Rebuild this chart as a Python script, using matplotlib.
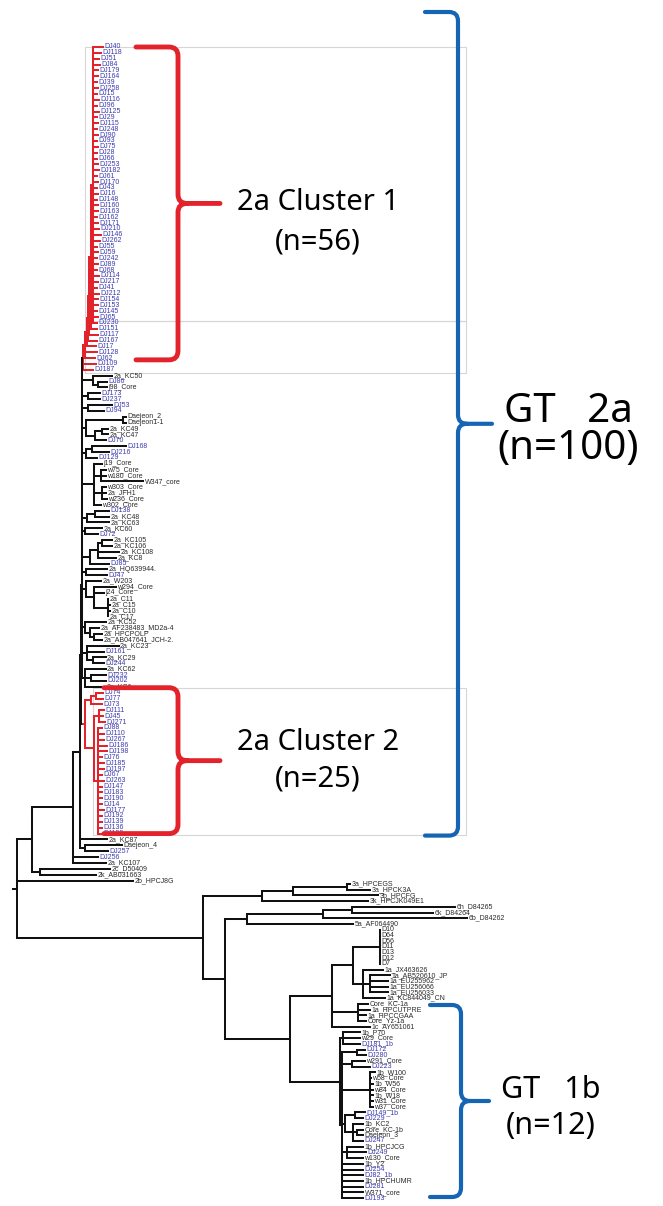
import matplotlib
matplotlib.use("Agg")
import matplotlib.pyplot as plt
from matplotlib.path import Path
from matplotlib.patches import PathPatch, Rectangle
from matplotlib.collections import LineCollection

# ---------------- data: tree topology, leaf names and branch lengths ----------------
# leaf = (name, branch_length) ; clade = (branch_length, [children])

# 2a Cluster 1 (n=56): comb of 48 leaves + ladder of 8
cluster1_names = ["DJ40", "DJ118", "DJ51", "DJ84", "DJ179", "DJ164", "DJ39", "DJ258", "DJ15", "DJ116",
                  "DJ96", "DJ125", "DJ29", "DJ115", "DJ248", "DJ90", "DJ93", "DJ75", "DJ28", "DJ66",
                  "DJ253", "DJ182", "DJ61", "DJ170", "DJ43", "DJ16", "DJ148", "DJ160", "DJ163", "DJ162",
                  "DJ171", "DJ210", "DJ146", "DJ262", "DJ55", "DJ59", "DJ242", "DJ89", "DJ68", "DJ114",
                  "DJ217", "DJ41", "DJ212", "DJ154", "DJ153", "DJ145", "DJ65", "DJ230",
                  "DJ151", "DJ117", "DJ167", "DJ17", "DJ128", "DJ62", "DJ109", "DJ187"]
cluster1_tips = [10, 8, 6, 7, 5, 5, 4, 5, 4, 6, 4, 6, 4, 5, 4, 5, 4, 5, 4, 4, 5, 6, 4, 5,
                 4, 5, 4, 5, 5, 4, 5, 6, 8, 7, 4, 5, 4, 5, 4, 6, 5, 4, 6, 5, 5, 4, 5, 4,
                 6, 9, 9, 9, 12, 10, 13, 10]

cluster2_names = ["DJ74", "DJ77", "DJ73", "DJ111", "DJ45", "DJ271", "DJ88", "DJ110", "DJ267", "DJ186",
                  "DJ198", "DJ76", "DJ185", "DJ197", "DJ67", "DJ263", "DJ147", "DJ183", "DJ190",
                  "DJ14", "DJ177", "DJ192", "DJ139", "DJ136", "DJ188"]
cluster2_tips = [7, 7, 11, 5, 4, 6, 4, 6, 6, 9, 9, 4, 6, 6, 4, 6, 4, 4, 4, 4, 6, 4, 4, 4, 4]

# other genotype-2a sub-clades (children of the 2a backbone)
g1 = (11, [("2a_KC50", 19), (5, [("DJ86", 9), ("j98_Core", 9)])])
g2 = (6, [("DJ173", 12), ("DJ237", 12)])
g3 = (6, [("DJ53", 24), ("DJ94", 16)])
g4 = (4, [(37, [("Daejeon_2", 3), ("Daejeon1-1", 3)]),
          (9, [(7, [("2a_KC49", 6), ("2a_KC47", 6)]), ("DJ70", 11)])])
g5 = (4, [(6, [("DJ168", 34), ("DJ216", 17)]), ("DJ129", 11)])
g6 = (12, [("j19_Core", 8), (7, [("w75_Core", 5), ("w180_Core", 5), ("W347_core", 42)]),
           (8, [("w303_Core", 4), ("2a_JFH1", 4), ("w236_Core", 5)]), ("w302_Core", 7)])
g7 = (5, [(8, [("DJ138", 14), ("2a_KC48", 14)]), ("2a_KC63", 22)])
g8 = (3, [("2a_KC60", 17), ("DJ72", 13)])
g9 = (8, [(8, [(4, [("2a_KC105", 10), ("2a_KC106", 10)]), ("2a_KC108", 21), ("2a_KC8", 18)]), ("DJ85", 19)])
g10 = (4, [("2a_HQ639944.", 21), ("DJ47", 21)])
g11 = (4, [("2a_W203", 15), (8, [("w294_Core", 22), ("j24_Core", 10),
                                  (14, [("2a_C11", 0), ("2a_C15", 2), ("2a_C10", 2), ("2a_C17", 0)])])])
g12 = (3, [("2a_KC52", 21), (5, [("2a_AF238483_MD2a-4", 9),
                                  (4, [("2a_HPCPOLP", 8), ("2a_AB047641_JCH-2.", 8)])])])
g13 = (5, [("2a_KC23", 32), ("DJ161", 17), (6, [("2a_KC29", 13), ("DJ244", 11)])])
g14 = (3, [("2a_KC62", 21), (6, [("DJ232", 15), ("DJ202", 15)]), ("2a_KC6", 21)])

# genotypes 3, 6, 5
gt3 = (59, [(31, [(54, [("3a_HPCEGS", 3), ("3a_HPCK3A", 23)]), ("3b_HPCFG", 85)]), ("3k_HPCJK049E1", 106)])
gt65 = (22, [(76, [(29, [("6h_D84265", 103), ("6k_D84264", 81)]), ("6b_D84262", 144)]), ("5a_AF064490", 106)])

# genotype 1a / 1c
d_names = ["D10", "D64", "D56", "D11", "D13", "D12", "D7"]
gt1a = (21, [(15, [(12, [(n, 0) for n in d_names])]),
             (10, [("1a_JX463626", 20),
                   (7, [("1a_AB520610_JP", 20), ("1a_EU255962", 18), ("1a_EU256066", 18), ("1a_EU256033", 18)]),
                   ("1a_KC844049_CN", 22)])])
gt1ac = (42, [gt1a, (26, [("Core_KC-1a", 10), ("1a_HPCUTPRE", 12), ("1a_HPCCGAA", 8), ("Core_Yz-1a", 8)]),
              ("1c_AY651061", 38)])

# genotype 1b
gt1b = (50, [(3, [("1b_P70", 17), ("w29_Core", 17), ("DJ181_1b", 17)]),
             (2, [(15, [("DJ172", 8), ("DJ280", 9)]),
                  (10, [("w291_Core", 13), ("DJ223", 18)]),
                  (28, [("1b_W100", 5), ("w58_Core", 1), ("1b_W56", 3), ("w84_Core", 3),
                        ("1b_W18", 3), ("w31_Core", 3), ("w37_Core", 3)]),
                  (3, [(10, [("DJ149_1b", 10), ("DJ229", 8)]),
                       (8, [("1b_KC2", 10), (4, [("Core_KC-1b", 6), ("Daejeon_3", 6)]), ("DJ247", 10)])]),
                  (5, [("1b_HPCJCG", 16), ("DJ249", 19), ("w130_Core", 16)]),
                  ("1b_Y2", 21), ("DJ254", 21), ("DJ82_1b", 21), ("1b_HPCHUMR", 21),
                  ("DJ281", 21), ("W371_core", 21), ("DJ193", 21)])])

# ---------------- assemble tree ----------------
comb = (2, [(n, t) for n, t in zip(cluster1_names[:48], cluster1_tips[:48])])
c1 = [(n, t) for n, t in zip(cluster1_names[48:], cluster1_tips[48:])]
L5 = (2, [comb, c1[0]])
L4 = (1, [L5, c1[1]])
L3 = (1, [L4, c1[2]])
L2 = (2, [L3, c1[3]])
L1 = (2, [L2, c1[4], c1[5]])
cluster1 = (0.5, [L1, c1[6], c1[7]])

c2 = [(n, t) for n, t in zip(cluster2_names, cluster2_tips)]
cluster2 = (4, [(6, [(5, c2[0:2]), c2[2]]),
                (9, [(5, c2[3:6]), (4, c2[6:])])])

up2 = (0.5, [cluster1, g1, g2, g3, g4, g5, g6, g7, g8, g9, g10, g11, g12])
up1 = (0.5, [up2, g13, g14])
core = (1, [up1, cluster2])
B = (7, [core, ("2a_KC87", 27), (5, [("Daejeon_4", 37), ("DJ257", 23)])])
A2 = (41, [B, ("DJ256", 25), ("2a_KC107", 33)])
G2 = (15, [A2, (8, [("2c_D50409", 70), ("2k_AB031663", 56)])])
others = (186, [gt3, (22, [gt65, (65, [gt1ac, gt1b])])])
root = (4, [G2, ("2b_HPCJ8G", 116), others])

RED_IDS = {id(cluster1), id(cluster2)}

# ---------------- layout ----------------
def count_leaves(node):
    if isinstance(node[0], str):
        return 1
    return sum(count_leaves(k) for k in node[1])

n_top = count_leaves(G2) + 1
n_low = count_leaves(others)
TOP_Y0, TOP_DY = 47.0, 5.87
LOW_Y0, LOW_DY = 884.0, 5.71
leaf_positions = [TOP_Y0 + i * TOP_DY for i in range(n_top)] + [LOW_Y0 + i * LOW_DY for i in range(n_low)]
leaf_iter = iter(leaf_positions)

segs, seg_cols, labels = [], [], {}
RED = "#e3232b"
BLACK = "#111111"


def layout(node, xp, color):
    if isinstance(node[0], str):
        name, bl = node
        x, y = xp + bl, next(leaf_iter)
        segs.append([(xp, y), (x, y)])
        seg_cols.append(color)
        labels[name] = (x, y, color)
        return y
    bl, kids = node
    c = RED if id(node) in RED_IDS else color
    x = xp + bl
    ys = [layout(k, x, c) for k in kids]
    y = (ys[0] + ys[-1]) / 2
    segs.append([(xp, y), (x, y)])
    seg_cols.append(c)
    segs.append([(x, min(ys)), (x, max(ys))])
    seg_cols.append(c)
    return y


ROOT_X = 13
layout(root, ROOT_X, BLACK)

# ---------------- drawing ----------------
fig = plt.figure(figsize=(6.63, 12.06), dpi=100)
ax = fig.add_axes([0, 0, 1, 1])
ax.set_xlim(0, 663)
ax.set_ylim(1206, 0)
ax.axis("off")

# light grey frames
for (x0, y0, x1, y1) in [(85, 47, 466, 321), (85, 321, 466, 373), (93, 688, 466, 835)]:
    ax.add_patch(Rectangle((x0, y0), x1 - x0, y1 - y0, fill=False, ec="#d6d6d6", lw=0.8, zorder=0))

lc = LineCollection(segs, colors=seg_cols, linewidths=1.45, capstyle="projecting", zorder=2)
ax.add_collection(lc)

for name, (x, y, col) in labels.items():
    tc = "#3b3bb0" if name.startswith("DJ") else "#2a2a2a"
    ax.text(x + 1.5, y, name, fontsize=5.0, color=tc, va="center", ha="left",
            family=["Liberation Sans", "DejaVu Sans"], zorder=3)


def brace(x0, xv, xtip, ytop, ybot, color, lw, r=9):
    ym = (ytop + ybot) / 2
    verts = [(x0, ytop), (xv - r, ytop), (xv, ytop), (xv, ytop + r),
             (xv, ym - r), (xv, ym), (xv + r, ym), (xtip, ym),
             (xv + r, ym), (xv, ym), (xv, ym + r),
             (xv, ybot - r), (xv, ybot), (xv - r, ybot), (x0, ybot)]
    codes = [Path.MOVETO, Path.LINETO, Path.CURVE3, Path.CURVE3,
             Path.LINETO, Path.CURVE3, Path.CURVE3, Path.LINETO,
             Path.MOVETO, Path.CURVE3, Path.CURVE3,
             Path.LINETO, Path.CURVE3, Path.CURVE3, Path.LINETO]
    ax.add_patch(PathPatch(Path(verts, codes), fill=False, ec=color, lw=lw,
                           capstyle="round", joinstyle="round", zorder=4))
    return ym


BLUE = "#1565b4"
c1_top = labels["DJ40"][1]
c1_bot = labels["DJ187"][1] - 10
c2_top = labels["DJ74"][1] - 5
c2_bot = labels["DJ188"][1]

ym1 = brace(136, 178, 220, c1_top, c1_bot, RED, 3.5)
ym2 = brace(104, 178, 220, c2_top, c2_bot, RED, 3.5)
ymA = brace(425, 458, 492, c1_top - 35, c2_bot + 2, BLUE, 3.0)
ymB = brace(430, 461, 489, 1005, 1197, BLUE, 3.0)

FONT = ["Noto Sans", "DejaVu Sans"]
ax.text(318, ym1 - 1, "2a Cluster 1", fontsize=21, ha="center", va="center", family=FONT)
ax.text(318, ym1 + 39, "(n=56)", fontsize=21, ha="center", va="center", family=FONT)
ax.text(318, ym2 - 18, "2a Cluster 2", fontsize=21, ha="center", va="center", family=FONT)
ax.text(318, ym2 + 18, "(n=25)", fontsize=21, ha="center", va="center", family=FONT)
ax.text(568, ymA - 12, "GT   2a", fontsize=29, ha="center", va="center", family=FONT)
ax.text(568, ymA + 25, "(n=100)", fontsize=29, ha="center", va="center", family=FONT)
ax.text(551, ymB - 11, "GT   1b", fontsize=22, ha="center", va="center", family=FONT)
ax.text(551, ymB + 25, "(n=12)", fontsize=22, ha="center", va="center", family=FONT)

fig.savefig("out.png", dpi=100, facecolor="white")
